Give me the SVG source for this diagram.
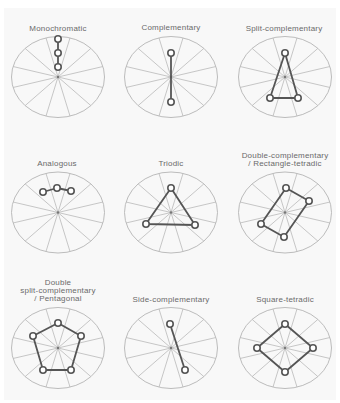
<svg xmlns="http://www.w3.org/2000/svg" width="340" height="403" viewBox="0 0 340 403">
<style>
.t{font-family:"Liberation Sans","DejaVu Sans",sans-serif;font-size:8px;fill:#6a6a6a;text-anchor:middle;letter-spacing:0.2px}
.rim{fill:none;stroke:#b4b4b4;stroke-width:0.9}
.sp{fill:none;stroke:#b9b9b9;stroke-width:0.8}
.ln{fill:none;stroke:#555;stroke-width:1.8;stroke-linejoin:round}
.nd{fill:#fff;stroke:#555;stroke-width:1.6}
.cd{fill:#777}
</style>
<defs>
<g id="wheel">
<ellipse class="rim" cx="0" cy="0" rx="46.5" ry="40.5"/>
<path class="sp" d="M12.03,-39.12L-12.03,39.12M32.88,-28.64L-32.88,28.64M44.92,-10.48L-44.92,10.48M44.92,10.48L-44.92,-10.48M32.88,28.64L-32.88,-28.64M12.03,39.12L-12.03,-39.12"/>
<circle class="cd" cx="0" cy="0" r="1.2"/>
</g>
</defs>
<rect width="340" height="403" fill="#fff"/>
<rect x="4" y="8" width="332" height="392" fill="#f8f8f8"/>
<g id="wheels">
<use href="#wheel" x="58" y="77"/>
<use href="#wheel" x="171" y="77"/>
<use href="#wheel" x="285" y="77"/>
<use href="#wheel" x="58" y="212.5"/>
<use href="#wheel" x="171" y="212.5"/>
<use href="#wheel" x="285" y="212.5"/>
<use href="#wheel" x="58" y="348"/>
<use href="#wheel" x="171" y="348"/>
<use href="#wheel" x="285" y="348"/>
</g>
<g id="connectors">
<path class="ln" d="M58,39L58,67"/>
<path class="ln" d="M171,53L171,102"/>
<path class="ln" d="M285,53L270,98L298,98Z"/>
<path class="ln" d="M43,192L57,188L71,191"/>
<path class="ln" d="M171,188L146,224L195,225Z"/>
<path class="ln" d="M286,188L309,201L284,237L261,224Z"/>
<path class="ln" d="M58,323L81,336L71,370L43,370L33,336Z"/>
<path class="ln" d="M170,324L185,370"/>
<path class="ln" d="M285,324L313,348L285,372L257,348Z"/>
</g>
<g id="monochromatic">
<text class="t" x="58" y="31">Monochromatic</text>
<circle class="nd" cx="58" cy="39" r="3.2"/><circle class="nd" cx="58" cy="53" r="3.2"/><circle class="nd" cx="58" cy="67" r="3.2"/>
</g>
<g id="complementary">
<text class="t" x="171" y="30">Complementary</text>
<circle class="nd" cx="171" cy="53" r="3.2"/><circle class="nd" cx="171" cy="102" r="3.2"/>
</g>
<g id="split-complementary">
<text class="t" x="284" y="31">Split-complementary</text>
<circle class="nd" cx="285" cy="53" r="3.2"/><circle class="nd" cx="270" cy="98" r="3.2"/><circle class="nd" cx="298" cy="98" r="3.2"/>
</g>
<g id="analogous">
<text class="t" x="57" y="166">Analogous</text>
<circle class="nd" cx="43" cy="192" r="3.2"/><circle class="nd" cx="57" cy="188" r="3.2"/><circle class="nd" cx="71" cy="191" r="3.2"/>
</g>
<g id="triodic">
<text class="t" x="171" y="166">Triodic</text>
<circle class="nd" cx="171" cy="188" r="3.2"/><circle class="nd" cx="146" cy="224" r="3.2"/><circle class="nd" cx="195" cy="225" r="3.2"/>
</g>
<g id="double-complementary">
<text class="t" x="285" y="158">Double-complementary</text>
<text class="t" x="285" y="166">/ Rectangle-tetradic</text>
<circle class="nd" cx="286" cy="188" r="3.2"/><circle class="nd" cx="309" cy="201" r="3.2"/><circle class="nd" cx="284" cy="237" r="3.2"/><circle class="nd" cx="261" cy="224" r="3.2"/>
</g>
<g id="pentagonal">
<text class="t" x="58" y="285">Double</text>
<text class="t" x="58" y="293">split-complementary</text>
<text class="t" x="58" y="301">/ Pentagonal</text>
<circle class="nd" cx="58" cy="323" r="3.2"/><circle class="nd" cx="81" cy="336" r="3.2"/><circle class="nd" cx="71" cy="370" r="3.2"/><circle class="nd" cx="43" cy="370" r="3.2"/><circle class="nd" cx="33" cy="336" r="3.2"/>
</g>
<g id="side-complementary">
<text class="t" x="171" y="302">Side-complementary</text>
<circle class="nd" cx="170" cy="324" r="3.2"/><circle class="nd" cx="185" cy="370" r="3.2"/>
</g>
<g id="square-tetradic">
<text class="t" x="285" y="302">Square-tetradic</text>
<circle class="nd" cx="285" cy="324" r="3.2"/><circle class="nd" cx="313" cy="348" r="3.2"/><circle class="nd" cx="285" cy="372" r="3.2"/><circle class="nd" cx="257" cy="348" r="3.2"/>
</g>
</svg>
